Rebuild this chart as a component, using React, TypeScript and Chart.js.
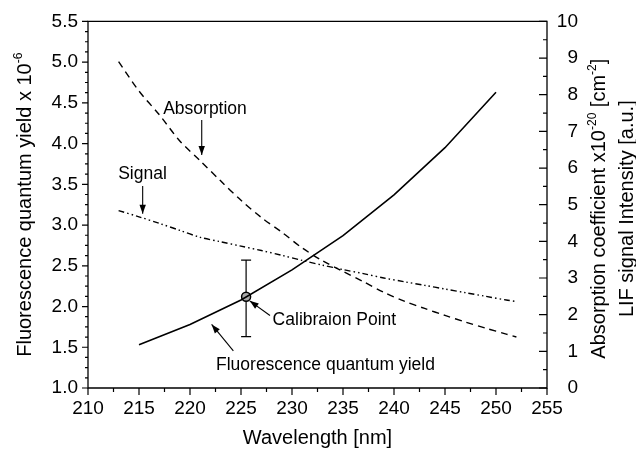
import React, { useEffect, useRef } from "react";
import { Chart, registerables } from "chart.js";

Chart.register(...registerables);

const FONT = "'Liberation Sans', Arial, Helvetica, sans-serif";

// ---- Axis ranges / ticks ----
const xTickValues = [210, 215, 220, 225, 230, 235, 240, 245, 250, 255];
const leftTickValues = [1.0, 1.5, 2.0, 2.5, 3.0, 3.5, 4.0, 4.5, 5.0, 5.5];
const rightTickValues = [0, 1, 2, 3, 4, 5, 6, 7, 8, 9, 10];

// ---- Fluorescence quantum yield (left axis, x10^-6) ----
const qyWavelength = [215, 220, 225, 230, 235, 240, 245, 250];
const qyValues = [1.53, 1.78, 2.08, 2.45, 2.87, 3.37, 3.95, 4.63];

// ---- Absorption coefficient (right axis) ----
const absWavelength = [213, 215, 217, 219, 221, 223, 225, 227, 229, 231, 233, 235, 237, 239, 241, 243, 245, 247, 249, 251, 252];
const absValues = [8.9, 8.1, 7.45, 6.74, 6.2, 5.65, 5.12, 4.65, 4.25, 3.82, 3.47, 3.18, 2.9, 2.61, 2.37, 2.17, 1.98, 1.8, 1.63, 1.47, 1.39];

// ---- LIF signal (right axis) ----
const sigWavelength = [213, 215, 217, 219, 221, 223, 225, 227, 229, 231, 233, 235, 237, 239, 241, 243, 245, 247, 249, 251, 252];
const sigValues = [4.84, 4.67, 4.49, 4.3, 4.11, 3.99, 3.87, 3.75, 3.62, 3.48, 3.35, 3.23, 3.12, 3.0, 2.9, 2.8, 2.7, 2.6, 2.5, 2.4, 2.36];

// ---- Calibration point ----
const calibWavelength = [225.5];
const calibValue = [2.12];
const calibLow = [1.63];
const calibHigh = [2.57];

// ---- Annotations (positions in data units of x / left y) ----
const annotations = [
  { text: "Absorption", tx: 221.47, ty: 4.42, align: "center", a: [221.15, 4.29, 221.15, 3.86] },
  { text: "Signal", tx: 215.34, ty: 3.63, align: "center", a: [215.36, 3.48, 215.36, 3.14] },
  { text: "Calibraion Point", tx: 228.1, ty: 1.83, align: "left", a: [227.84, 1.89, 225.85, 2.07] },
  { text: "Fluorescence quantum yield", tx: 222.55, ty: 1.28, align: "left", a: [224.25, 1.456, 222.12, 1.78] },
];

const TICK_FONT = 19;
const TITLE_FONT = 20;
const SUP_FONT = 12;
const NOTE_FONT = 17.5;

function zip(xs: number[], ys: number[]) {
  return xs.map((x, i) => ({ x, y: ys[i] }));
}

function drawArrow(ctx: CanvasRenderingContext2D, x1: number, y1: number, x2: number, y2: number) {
  ctx.beginPath();
  ctx.moveTo(x1, y1);
  ctx.lineTo(x2, y2);
  ctx.stroke();
  const ang = Math.atan2(y2 - y1, x2 - x1);
  const L = 9;
  const W = 3.2;
  const c = Math.cos(ang);
  const s = Math.sin(ang);
  ctx.beginPath();
  ctx.moveTo(x2, y2);
  ctx.lineTo(x2 - L * c + W * s, y2 - L * s - W * c);
  ctx.lineTo(x2 - L * c - W * s, y2 - L * s + W * c);
  ctx.closePath();
  ctx.fill();
}

type Part = { t: string; sup?: boolean };

function drawRich(ctx: CanvasRenderingContext2D, parts: Part[], cx: number, cy: number, rot: number) {
  ctx.save();
  ctx.translate(cx, cy);
  ctx.rotate(rot);
  ctx.textAlign = "left";
  ctx.textBaseline = "alphabetic";
  let total = 0;
  const widths = parts.map((p) => {
    ctx.font = `${p.sup ? SUP_FONT : TITLE_FONT}px ${FONT}`;
    const w = ctx.measureText(p.t).width;
    total += w;
    return w;
  });
  let x = -total / 2;
  const base = TITLE_FONT * 0.36;
  parts.forEach((p, i) => {
    ctx.font = `${p.sup ? SUP_FONT : TITLE_FONT}px ${FONT}`;
    ctx.fillText(p.t, x, p.sup ? base - 9 : base);
    x += widths[i];
  });
  ctx.restore();
}

const decorPlugin = {
  id: "decor",
  beforeDatasetsDraw(chart: any) {
    const { ctx, scales } = chart;
    const sx = scales.x;
    const sy = scales.y;
    ctx.save();
    ctx.strokeStyle = "#000";
    ctx.lineWidth = 1.2;
    calibWavelength.forEach((w, i) => {
      const x = sx.getPixelForValue(w);
      const yl = sy.getPixelForValue(calibLow[i]);
      const yh = sy.getPixelForValue(calibHigh[i]);
      ctx.beginPath();
      ctx.moveTo(x, yl);
      ctx.lineTo(x, yh);
      ctx.moveTo(x - 5, yl);
      ctx.lineTo(x + 5, yl);
      ctx.moveTo(x - 5, yh);
      ctx.lineTo(x + 5, yh);
      ctx.stroke();
    });
    ctx.restore();
  },
  afterDraw(chart: any) {
    const { ctx, chartArea: ca, scales } = chart;
    const sx = scales.x;
    const sy = scales.y;
    const sy2 = scales.y2;
    ctx.save();
    ctx.strokeStyle = "#000";
    ctx.fillStyle = "#000";
    ctx.lineWidth = 1.3;
    // frame
    ctx.beginPath();
    ctx.rect(ca.left, ca.top, ca.right - ca.left, ca.bottom - ca.top);
    ctx.stroke();

    ctx.lineWidth = 1.2;
    ctx.beginPath();
    // left ticks (outward), 3 minors between majors
    for (let i = 0; i < leftTickValues.length; i++) {
      const v = leftTickValues[i];
      const y = sy.getPixelForValue(v);
      ctx.moveTo(ca.left - 6, y);
      ctx.lineTo(ca.left, y);
      if (i < leftTickValues.length - 1) {
        const step = (leftTickValues[i + 1] - v) / 4;
        for (let k = 1; k < 4; k++) {
          const ym = sy.getPixelForValue(v + step * k);
          ctx.moveTo(ca.left - 3, ym);
          ctx.lineTo(ca.left, ym);
        }
      }
    }
    // bottom ticks (outward)
    for (let i = 0; i < xTickValues.length; i++) {
      const v = xTickValues[i];
      const x = sx.getPixelForValue(v);
      ctx.moveTo(x, ca.bottom);
      ctx.lineTo(x, ca.bottom + 7);
      if (i < xTickValues.length - 1) {
        const xm = sx.getPixelForValue((v + xTickValues[i + 1]) / 2);
        ctx.moveTo(xm, ca.bottom);
        ctx.lineTo(xm, ca.bottom + 4);
      }
    }
    // right ticks (inward)
    for (let i = 0; i < rightTickValues.length; i++) {
      const v = rightTickValues[i];
      const y = sy2.getPixelForValue(v);
      ctx.moveTo(ca.right - 8, y);
      ctx.lineTo(ca.right, y);
      if (i < rightTickValues.length - 1) {
        const ym = sy2.getPixelForValue((v + rightTickValues[i + 1]) / 2);
        ctx.moveTo(ca.right - 4, ym);
        ctx.lineTo(ca.right, ym);
      }
    }
    ctx.stroke();

    // axis titles
    const midY = (ca.top + ca.bottom) / 2;
    drawRich(ctx, [{ t: "Fluorescence quantum yield x 10" }, { t: "-6", sup: true }], 24, midY, -Math.PI / 2);
    drawRich(ctx, [{ t: "Wavelength [nm]" }], (ca.left + ca.right) / 2, 437, 0);
    drawRich(
      ctx,
      [
        { t: "Absorption coefficient x10" },
        { t: "-20", sup: true },
        { t: " [cm" },
        { t: "-2", sup: true },
        { t: "]" },
      ],
      598,
      midY + 4,
      -Math.PI / 2
    );
    drawRich(ctx, [{ t: "LIF signal Intensity [a.u.]" }], 626, midY + 4, -Math.PI / 2);

    // annotations
    ctx.font = `${NOTE_FONT}px ${FONT}`;
    ctx.textBaseline = "middle";
    ctx.lineWidth = 1.1;
    annotations.forEach((a) => {
      ctx.textAlign = a.align as CanvasTextAlign;
      ctx.fillText(a.text, sx.getPixelForValue(a.tx), sy.getPixelForValue(a.ty));
      drawArrow(
        ctx,
        sx.getPixelForValue(a.a[0]),
        sy.getPixelForValue(a.a[1]),
        sx.getPixelForValue(a.a[2]),
        sy.getPixelForValue(a.a[3])
      );
    });
    ctx.restore();
  },
};

export default function App() {
  const canvasRef = useRef<HTMLCanvasElement | null>(null);

  useEffect(() => {
    const canvas = canvasRef.current;
    if (!canvas) return;
    const tickFont = { family: FONT, size: TICK_FONT };
    const chart = new Chart(canvas, {
      type: "line",
      data: {
        datasets: [
          {
            label: "Fluorescence quantum yield",
            data: zip(qyWavelength, qyValues),
            yAxisID: "y",
            borderColor: "#000",
            borderWidth: 1.6,
            pointRadius: 0,
            tension: 0,
            fill: false,
          },
          {
            label: "Absorption",
            data: zip(absWavelength, absValues),
            yAxisID: "y2",
            borderColor: "#000",
            borderWidth: 1.4,
            borderDash: [7, 5],
            pointRadius: 0,
            tension: 0.3,
            fill: false,
          },
          {
            label: "Signal",
            data: zip(sigWavelength, sigValues),
            yAxisID: "y2",
            borderColor: "#000",
            borderWidth: 1.4,
            borderDash: [6, 3, 1.5, 3, 1.5, 3],
            pointRadius: 0,
            tension: 0.3,
            fill: false,
          },
          {
            label: "Calibration Point",
            data: zip(calibWavelength, calibValue),
            yAxisID: "y",
            showLine: false,
            pointRadius: 4.5,
            pointBackgroundColor: "#a8a8a8",
            pointBorderColor: "#000",
            pointBorderWidth: 1.5,
          },
        ],
      },
      options: {
        animation: false,
        responsive: false,
        devicePixelRatio: 1,
        layout: { padding: { top: 20, right: 58, left: 0, bottom: 0 } },
        plugins: { legend: { display: false }, tooltip: { enabled: false }, title: { display: false } },
        scales: {
          x: {
            type: "linear",
            min: 210,
            max: 255,
            grid: { display: false, drawTicks: false },
            border: { display: false },
            ticks: { stepSize: 5, font: tickFont, color: "#000", padding: 9, autoSkip: false, maxRotation: 0 },
            afterFit: (s: any) => {
              s.height = 68;
            },
          },
          y: {
            type: "linear",
            position: "left",
            min: 1,
            max: 5.5,
            grid: { display: false, drawTicks: false },
            border: { display: false },
            ticks: {
              stepSize: 0.5,
              font: tickFont,
              color: "#000",
              padding: 10,
              autoSkip: false,
              callback: (v: any) => Number(v).toFixed(1),
            },
            afterFit: (s: any) => {
              s.width = 88;
            },
          },
          y2: {
            type: "linear",
            position: "right",
            min: 0,
            max: 10,
            grid: { display: false, drawTicks: false },
            border: { display: false },
            ticks: { stepSize: 1, font: tickFont, color: "#000", padding: 10, autoSkip: false, crossAlign: "far" },
            afterFit: (s: any) => {
              s.width = 31;
            },
          },
        },
      },
      plugins: [decorPlugin],
    });
    return () => chart.destroy();
  }, []);

  return (
    <div style={{ position: "absolute", left: 0, top: 0, width: 636, height: 456, background: "#fff" }}>
      <canvas ref={canvasRef} width={636} height={456} style={{ width: 636, height: 456, display: "block" }} />
    </div>
  );
}
